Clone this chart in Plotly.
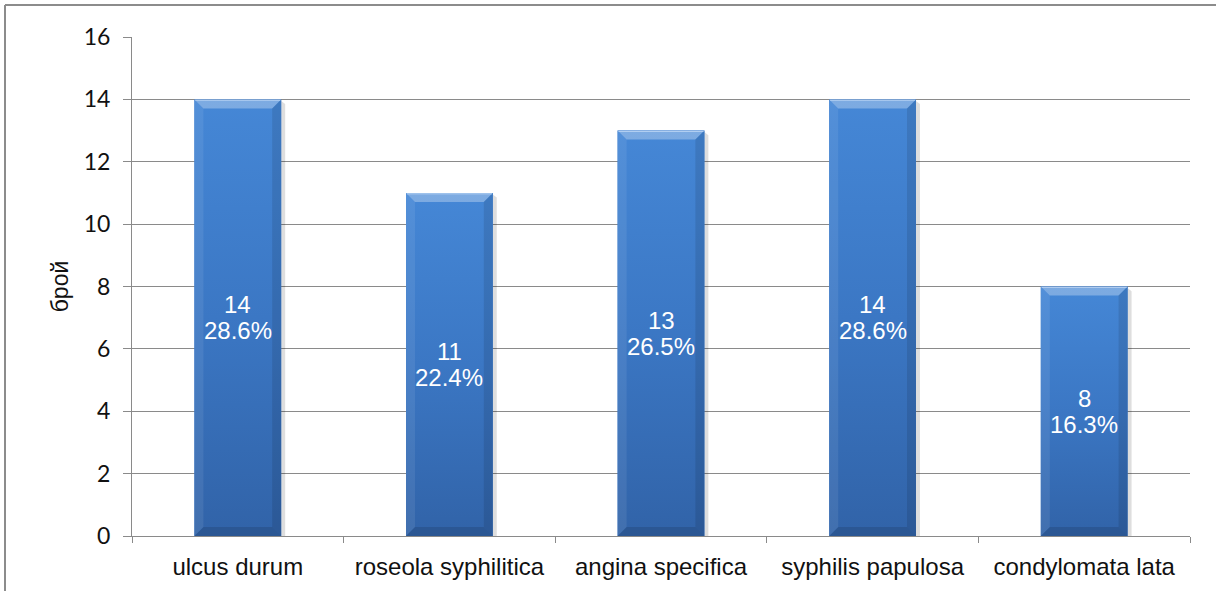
import plotly.graph_objects as go

# Data
categories = ["ulcus durum", "roseola syphilitica", "angina specifica",
              "syphilis papulosa", "condylomata lata"]
counts = [14, 11, 13, 14, 8]
percents = ["28.6%", "22.4%", "26.5%", "28.6%", "16.3%"]
y_ticks = [0, 2, 4, 6, 8, 10, 12, 14, 16]

# Layout geometry
W, H = 1216, 591
M_L, M_R, M_T, M_B = 132, 26, 37, 55
plot_w = W - M_L - M_R
plot_h = H - M_T - M_B
x_lo, x_hi = -0.5, len(categories) - 0.5
y_lo, y_hi = 0, 16
px_x = plot_w / (x_hi - x_lo)      # pixels per x unit
px_y = plot_h / (y_hi - y_lo)      # pixels per y unit

bar_w = 0.41
bevel = 9                          # bevel size in pixels
bx, by = bevel / px_x, bevel / px_y
shadow = 4 / px_x

grid_col = "#8a8a8a"
label_font = dict(family="Liberation Sans, Arial", size=24, color="white")
xs = list(range(len(categories)))

fig = go.Figure()

# soft drop shadow on the right of each bar
for i, v in zip(xs, counts):
    x1 = i + bar_w / 2
    fig.add_trace(go.Scatter(
        x=[x1, x1 + shadow, x1 + shadow, x1, x1],
        y=[0, 0, v - 0.15, v - 0.05, 0],
        fill="toself", fillcolor="rgba(0,0,0,0.13)", mode="none",
        hoverinfo="skip", showlegend=False))

# base bars
fig.add_trace(go.Bar(
    x=xs, y=counts, width=bar_w, marker=dict(color="#3e7bca", line=dict(width=0)),
    hoverinfo="skip", showlegend=False))

# vertical gradient fill + bevel facets
for i, v in zip(xs, counts):
    x0, x1 = i - bar_w / 2, i + bar_w / 2
    fig.add_trace(go.Scatter(
        x=[x0, x1, x1, x0, x0], y=[0, 0, v, v, 0],
        fill="toself", mode="none",
        fillgradient=dict(type="vertical",
                          colorscale=[[0, "#3163a8"], [0.5, "#3b77c4"], [1, "#4587d6"]]),
        hoverinfo="skip", showlegend=False))
    facets = [
        # top
        ([x0, x1, x1 - bx, x0 + bx, x0], [v, v, v - by, v - by, v], "rgba(255,255,255,0.30)"),
        # left
        ([x0, x0 + bx, x0 + bx, x0, x0], [0, by, v - by, v, 0], "rgba(255,255,255,0.08)"),
        # right
        ([x1, x1 - bx, x1 - bx, x1, x1], [0, by, v - by, v, 0], "rgba(0,0,0,0.10)"),
        # bottom
        ([x0, x1, x1 - bx, x0 + bx, x0], [0, 0, by, by, 0], "rgba(0,0,0,0.12)"),
    ]
    for fx, fy, col in facets:
        fig.add_trace(go.Scatter(
            x=fx, y=fy, fill="toself", fillcolor=col, mode="none",
            hoverinfo="skip", showlegend=False))
    # thin highlight along the top edge
    fig.add_trace(go.Scatter(
        x=[x0 + 0.004, x1 - 0.004], y=[v - 0.03, v - 0.03], mode="lines",
        line=dict(color="rgba(190,215,245,0.8)", width=1),
        hoverinfo="skip", showlegend=False))

# value labels centred in each bar: count above, share below
for i, v, p in zip(xs, counts, percents):
    fig.add_annotation(x=i, y=v / 2, text=str(v), showarrow=False,
                       font=label_font, yshift=13, xref="x", yref="y")
    fig.add_annotation(x=i, y=v / 2, text=p, showarrow=False,
                       font=label_font, yshift=-13, xref="x", yref="y")

fig.update_layout(
    width=W, height=H,
    margin=dict(l=M_L, r=M_R, t=M_T, b=M_B),
    paper_bgcolor="white", plot_bgcolor="white",
    showlegend=False,
    xaxis=dict(
        range=[x_lo, x_hi], tickmode="array", tickvals=xs, ticktext=categories,
        ticks="", showgrid=False, zeroline=False,
        showline=True, linecolor=grid_col, linewidth=1,
        tickfont=dict(family="Liberation Sans, Arial", size=24, color="#111"),
        ticklabelstandoff=9,
        minor=dict(tickmode="array", tickvals=[x + 0.5 for x in [-1] + xs],
                   ticks="outside", ticklen=6, tickcolor=grid_col, tickwidth=1,
                   showgrid=False),
        fixedrange=True),
    yaxis=dict(
        range=[y_lo, y_hi], tickmode="array", tickvals=y_ticks,
        showgrid=True, gridcolor=grid_col, gridwidth=1, zeroline=False,
        showline=True, linecolor=grid_col, linewidth=1,
        ticks="outside", ticklen=8, tickcolor=grid_col,
        tickfont=dict(family="Lato", size=23, color="#111"),
        ticklabelstandoff=8,
        title=dict(text="брой", font=dict(family="Liberation Sans, Arial", size=23, color="#111"),
                   standoff=8),
        fixedrange=True),
    shapes=[
        # chart frame (top and left edges)
        dict(type="line", xref="paper", yref="paper",
             x0=(5 - M_L) / plot_w, x1=(W + 5 - M_L) / plot_w,
             y0=(H - 5 - M_B) / plot_h, y1=(H - 5 - M_B) / plot_h,
             line=dict(color="#8c8c8c", width=2)),
        dict(type="line", xref="paper", yref="paper",
             x0=(5 - M_L) / plot_w, x1=(5 - M_L) / plot_w,
             y0=(H - 5 - M_B) / plot_h, y1=-M_B / plot_h - 0.05,
             line=dict(color="#8c8c8c", width=2)),
    ],
)

fig.write_html("out.html")
